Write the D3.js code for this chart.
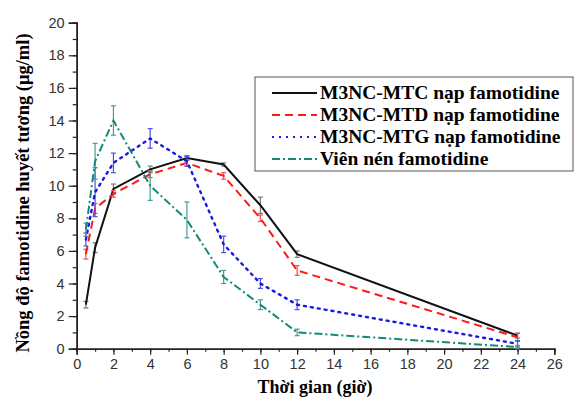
<!DOCTYPE html>
<html><head><meta charset="utf-8">
<script src="https://cdn.jsdelivr.net/npm/d3@7/dist/d3.min.js"></script>
<style>body{margin:0;background:#fff}svg{display:block}</style>
</head><body><svg id="c" width="579" height="398"></svg>
<script>
const times = [0.5, 1, 2, 4, 6, 8, 10, 12, 24];
const mtc = [2.7, 6.2, 9.8, 11.0, 11.7, 11.3, 8.8, 5.8, 0.8];
const mtcErr = [0.2, 0.3, 0.3, 0.2, 0.15, 0.1, 0.5, 0.2, 0.15];
const mtd = [5.8, 8.6, 9.5, 10.7, 11.4, 10.6, 8.0, 4.8, 0.7];
const mtdErr = [0.3, 0.3, 0.2, 0.2, 0.2, 0.2, 0.2, 0.3, 0.25];
const mtg = [6.7, 9.6, 11.4, 12.9, 11.5, 6.4, 4.0, 2.7, 0.3];
const mtgErr = [0.4, 1.5, 0.6, 0.6, 0.3, 0.5, 0.3, 0.3, 0.2];
const vien = [7.3, 11.5, 14.0, 10.0, 7.9, 4.4, 2.7, 1.0, 0.1];
const vienErr = [0.4, 1.1, 0.9, 0.9, 1.1, 0.4, 0.3, 0.2, 0.1];
const seriesNames = ["M3NC-MTC nạp famotidine", "M3NC-MTD nạp famotidine", "M3NC-MTG nạp famotidine", "Viên nén famotidine"];
const xTicks = [0,2,4,6,8,10,12,14,16,18,20,22,24,26];
const yTicks = [0,2,4,6,8,10,12,14,16,18,20];

const series = [
  {name: seriesNames[0], v: mtc, e: mtcErr, color: "#111111", ecolor: "#777777", dash: null},
  {name: seriesNames[1], v: mtd, e: mtdErr, color: "#ff1a1a", ecolor: "#ff4a4a", dash: "8,5"},
  {name: seriesNames[2], v: mtg, e: mtgErr, color: "#1a1ae6", ecolor: "#5050e0", dash: "2,5"},
  {name: seriesNames[3], v: vien, e: vienErr, color: "#128a7a", ecolor: "#4a9a90", dash: "8,3,2,3"}
];

const svg = d3.select("#c");
const L = 76.7, R = 554.3, T = 22.7, B = 348.7;
const x = d3.scaleLinear().domain([0, 26]).range([L, R]);
const y = d3.scaleLinear().domain([0, 20]).range([B, T]);

const serif = "Liberation Serif, Times New Roman, serif";

// minor ticks
const gx = svg.append("g").attr("transform", `translate(0,${B})`);
gx.call(d3.axisBottom(x).tickValues(d3.range(0, 27, 1)).tickSize(3).tickFormat(""));
const gx2 = svg.append("g").attr("transform", `translate(0,${B})`);
gx2.call(d3.axisBottom(x).tickValues(xTicks).tickSize(6).tickPadding(4).tickFormat(d3.format("d")));
const gy = svg.append("g").attr("transform", `translate(${L},0)`);
gy.call(d3.axisLeft(y).tickValues(d3.range(0, 21, 1)).tickSize(4).tickFormat(""));
const gy2 = svg.append("g").attr("transform", `translate(${L},0)`);
gy2.call(d3.axisLeft(y).tickValues(yTicks).tickSize(8).tickPadding(4).tickFormat(d3.format("d")));
svg.selectAll(".domain").attr("stroke", "#222").attr("stroke-width", 1.5);
svg.selectAll(".tick line").attr("stroke", "#222").attr("stroke-width", 1.2);
svg.selectAll(".tick text").attr("font-family", "Liberation Sans, Arial, sans-serif").attr("font-size", 14.5).attr("fill", "#333");

const line = d3.line().x(d => x(d[0])).y(d => y(d[1]));
series.forEach(s => {
  const pts = times.map((t, i) => [t, s.v[i]]);
  const g = svg.append("g");
  times.forEach((t, i) => {
    const cx = x(t), y1 = y(s.v[i] + s.e[i]), y2 = y(s.v[i] - s.e[i]);
    g.append("line").attr("x1", cx).attr("x2", cx).attr("y1", y1).attr("y2", y2).attr("stroke", s.ecolor).attr("stroke-width", 1.2);
    [y1, y2].forEach(yy => g.append("line").attr("x1", cx - 2.5).attr("x2", cx + 2.5).attr("y1", yy).attr("y2", yy).attr("stroke", s.ecolor).attr("stroke-width", 1.2));
  });
  svg.append("path").attr("d", line(pts)).attr("fill", "none").attr("stroke", s.color)
    .attr("stroke-width", s.dash === "2,5" ? 2.4 : 2).attr("stroke-dasharray", s.dash).attr("stroke-linecap", s.dash === "2,5" ? "round" : "butt");
});

// legend
svg.append("rect").attr("x", 255).attr("y", 77).attr("width", 318).attr("height", 94)
  .attr("fill", "#fff").attr("stroke", "#555").attr("stroke-width", 1);
series.forEach((s, i) => {
  const ly = 93 + i * 22;
  svg.append("line").attr("x1", 272).attr("x2", 317).attr("y1", ly).attr("y2", ly)
    .attr("stroke", s.color).attr("stroke-width", 2).attr("stroke-dasharray", s.dash);
  svg.append("text").attr("x", 320).attr("y", ly + 6).text(s.name)
    .attr("font-family", serif).attr("font-weight", "bold")
    .attr("font-size", 19.5).attr("fill", "#000");
});

// axis titles
svg.append("text").attr("x", 315).attr("y", 393).attr("text-anchor", "middle")
  .attr("font-family", serif).attr("font-weight", "bold").attr("font-size", 18)
  .text("Thời gian (giờ)");
svg.append("text").attr("transform", "translate(29,193) rotate(-90)").attr("text-anchor", "middle")
  .attr("font-family", serif).attr("font-weight", "bold").attr("font-size", 18.5)
  .text("Nồng độ famotidine huyết tương (μg/ml)");
</script></body></html>
